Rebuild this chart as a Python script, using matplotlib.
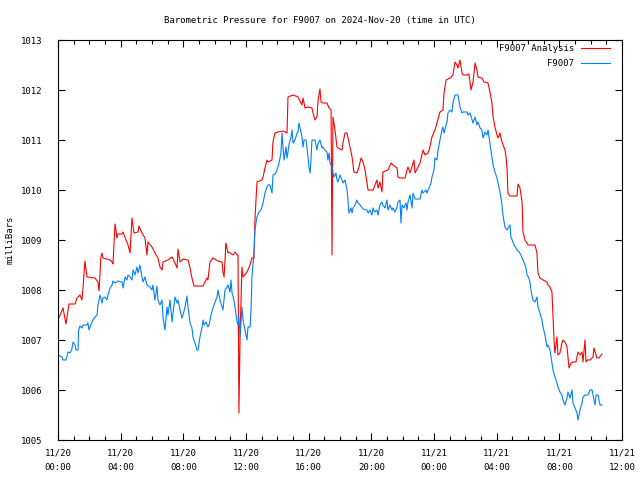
# Barometric pressure for F9007, analysis vs station, 2024-Nov-20 (UTC)

import numpy as np
import pandas as pd
import matplotlib
matplotlib.use('Agg')
import matplotlib.pyplot as plt
import matplotlib.dates as mdates

# Data: hours after 2024-11-20 00:00 UTC, pressure in mb
analysis_hours = [
    0.00, 0.32, 0.51, 0.70, 1.09, 1.21, 1.40, 1.53, 1.60, 1.72, 1.85, 2.36, 2.55, 2.62, 2.74, 2.81,
    2.87, 3.32, 3.45, 3.51, 3.64, 3.77, 3.83, 4.09, 4.15, 4.34, 4.47, 4.60, 4.72, 4.85, 5.11, 5.17,
    5.36, 5.55, 5.68, 5.74, 6.00, 6.19, 6.38, 6.51, 6.64, 6.70, 7.02, 7.28, 7.47, 7.60, 7.66, 7.79,
    7.98, 8.30, 8.43, 8.55, 8.68, 9.26, 9.38, 9.51, 9.57, 9.70, 9.89, 10.21, 10.47, 10.53, 10.60,
    10.72, 10.85, 10.91, 11.17, 11.30, 11.43, 11.49, 11.55, 11.62, 11.74, 11.81, 12.06, 12.26, 12.38,
    12.51, 12.57, 12.70, 13.02, 13.09, 13.21, 13.34, 13.40, 13.66, 13.72, 13.85, 14.04, 14.36, 14.62,
    14.68, 15.00, 15.32, 15.57, 15.64, 15.77, 15.96, 16.21, 16.28, 16.40, 16.53, 16.60, 16.72, 16.79,
    16.91, 17.17, 17.30, 17.43, 17.49, 17.55, 17.68, 17.81, 17.87, 18.13, 18.19, 18.32, 18.45, 18.64,
    18.77, 18.89, 19.08, 19.21, 19.34, 19.47, 19.60, 19.72, 19.79, 20.11, 20.36, 20.43, 20.55, 20.68,
    20.74, 21.06, 21.26, 21.38, 21.64, 21.70, 21.83, 22.15, 22.28, 22.34, 22.47, 22.66, 22.72, 22.79,
    22.98, 23.11, 23.30, 23.43, 23.62, 23.74, 23.87, 24.06, 24.19, 24.38, 24.57, 24.64, 24.77, 25.02,
    25.21, 25.34, 25.47, 25.53, 25.66, 25.79, 25.85, 26.11, 26.23, 26.36, 26.49, 26.62, 26.74, 26.81,
    27.06, 27.19, 27.45, 27.57, 27.70, 27.77, 27.89, 28.02, 28.09, 28.21, 28.34, 28.53, 28.60, 28.66,
    28.72, 28.85, 29.30, 29.36, 29.49, 29.62, 29.68, 29.81, 30.00, 30.45, 30.57, 30.64, 30.76, 30.96,
    31.21, 31.28, 31.40, 31.53, 31.60, 31.66, 31.72, 31.85, 31.91, 32.04, 32.17, 32.23, 32.36, 32.49,
    32.55, 32.62, 32.74, 32.87, 33.06, 33.19, 33.32, 33.45, 33.51, 33.64, 33.70, 33.77, 33.96, 34.15,
    34.21, 34.40, 34.53, 34.72,
]
analysis_mb = [
    1007.40, 1007.64, 1007.32, 1007.72, 1007.72, 1007.84, 1007.90, 1007.80, 1008.06, 1008.58, 1008.26,
    1008.24, 1008.16, 1007.98, 1008.66, 1008.74, 1008.64, 1008.60, 1008.56, 1008.52, 1009.32, 1009.04,
    1009.12, 1009.12, 1009.16, 1009.00, 1008.90, 1008.74, 1009.44, 1009.14, 1009.16, 1009.28, 1009.14,
    1009.04, 1008.70, 1008.96, 1008.86, 1008.74, 1008.64, 1008.46, 1008.40, 1008.56, 1008.60, 1008.66,
    1008.54, 1008.44, 1008.82, 1008.56, 1008.62, 1008.60, 1008.44, 1008.24, 1008.08, 1008.08, 1008.16,
    1008.24, 1008.20, 1008.56, 1008.64, 1008.58, 1008.56, 1008.36, 1008.26, 1008.94, 1008.74, 1008.76,
    1008.70, 1008.76, 1008.70, 1008.70, 1005.54, 1007.06, 1008.46, 1008.26, 1008.36, 1008.50, 1008.64,
    1008.64, 1009.40, 1010.16, 1010.20, 1010.26, 1010.44, 1010.60, 1010.56, 1010.60, 1010.96, 1011.14,
    1011.16, 1011.18, 1011.14, 1011.86, 1011.90, 1011.86, 1011.70, 1011.84, 1011.64, 1011.66, 1011.64,
    1011.54, 1011.40, 1011.46, 1011.80, 1012.02, 1011.76, 1011.74, 1011.74, 1011.64, 1011.60, 1008.70,
    1011.46, 1011.20, 1010.86, 1010.84, 1010.80, 1010.94, 1011.14, 1011.14, 1010.86, 1010.66, 1010.36,
    1010.34, 1010.46, 1010.64, 1010.56, 1010.40, 1010.14, 1010.00, 1010.00, 1010.20, 1010.04, 1010.16,
    1009.96, 1010.36, 1010.40, 1010.54, 1010.50, 1010.44, 1010.26, 1010.24, 1010.24, 1010.40, 1010.46,
    1010.34, 1010.54, 1010.60, 1010.34, 1010.46, 1010.54, 1010.80, 1010.70, 1010.74, 1010.86, 1011.06,
    1011.20, 1011.34, 1011.56, 1011.60, 1011.94, 1012.20, 1012.24, 1012.30, 1012.56, 1012.50, 1012.44,
    1012.60, 1012.34, 1012.30, 1012.30, 1012.32, 1012.00, 1012.16, 1012.54, 1012.40, 1012.26, 1012.24,
    1012.16, 1012.14, 1011.96, 1011.74, 1011.46, 1011.26, 1011.10, 1011.04, 1011.14, 1010.96, 1010.80,
    1010.66, 1010.44, 1009.94, 1009.88, 1009.88, 1010.12, 1010.04, 1009.76, 1009.16, 1009.00, 1008.90,
    1008.90, 1008.74, 1008.34, 1008.24, 1008.20, 1008.16, 1008.10, 1008.06, 1007.96, 1007.46, 1007.00,
    1006.74, 1007.06, 1006.70, 1006.74, 1006.94, 1007.00, 1006.96, 1006.86, 1006.66, 1006.44, 1006.54,
    1006.56, 1006.56, 1006.76, 1006.70, 1006.76, 1006.56, 1007.00, 1006.56, 1006.60, 1006.60, 1006.66,
    1006.84, 1006.64, 1006.64, 1006.72,
]

station_hours = [
    0.00, 0.26, 0.32, 0.51, 0.64, 0.77, 0.89, 0.96, 1.09, 1.15, 1.28, 1.31, 1.40, 1.53, 1.60, 1.85,
    1.91, 1.98, 2.17, 2.23, 2.36, 2.49, 2.55, 2.68, 2.81, 2.87, 3.00, 3.13, 3.19, 3.32, 3.45, 3.51,
    3.64, 3.83, 4.09, 4.15, 4.28, 4.40, 4.47, 4.60, 4.72, 4.79, 4.91, 5.04, 5.11, 5.23, 5.36, 5.43,
    5.55, 5.68, 5.87, 6.00, 6.06, 6.19, 6.32, 6.38, 6.51, 6.64, 6.70, 6.83, 6.96, 7.02, 7.15, 7.28,
    7.34, 7.47, 7.60, 7.66, 7.79, 7.91, 7.98, 8.11, 8.23, 8.30, 8.43, 8.55, 8.62, 8.74, 8.87, 8.94,
    9.06, 9.19, 9.26, 9.32, 9.45, 9.57, 9.64, 9.77, 9.89, 10.02, 10.15, 10.21, 10.34, 10.47, 10.53,
    10.66, 10.79, 10.85, 10.98, 11.04, 11.11, 11.23, 11.30, 11.43, 11.49, 11.55, 11.62, 11.74, 11.81,
    11.94, 12.06, 12.13, 12.26, 12.32, 12.38, 12.51, 12.57, 12.70, 12.83, 12.96, 13.09, 13.21, 13.34,
    13.40, 13.53, 13.66, 13.72, 13.85, 13.98, 14.04, 14.11, 14.23, 14.30, 14.36, 14.43, 14.55, 14.62,
    14.68, 14.74, 14.87, 14.94, 15.00, 15.13, 15.26, 15.32, 15.38, 15.51, 15.57, 15.64, 15.70, 15.83,
    15.89, 16.02, 16.09, 16.15, 16.21, 16.40, 16.53, 16.60, 16.72, 16.85, 16.91, 17.04, 17.17, 17.23,
    17.30, 17.36, 17.49, 17.55, 17.62, 17.74, 17.81, 17.87, 18.00, 18.13, 18.19, 18.32, 18.45, 18.51,
    18.57, 18.70, 18.77, 18.83, 18.96, 19.08, 19.15, 19.28, 19.47, 19.72, 19.79, 19.91, 20.04, 20.11,
    20.23, 20.36, 20.43, 20.55, 20.68, 20.74, 20.87, 21.00, 21.06, 21.19, 21.32, 21.38, 21.51, 21.64,
    21.70, 21.83, 21.89, 21.96, 22.08, 22.21, 22.28, 22.34, 22.47, 22.60, 22.66, 22.79, 23.11, 23.23,
    23.30, 23.49, 23.55, 23.68, 23.81, 23.87, 24.00, 24.06, 24.19, 24.26, 24.38, 24.51, 24.57, 24.64,
    24.77, 24.83, 24.89, 25.02, 25.15, 25.21, 25.34, 25.53, 25.66, 25.79, 25.85, 26.11, 26.17, 26.30,
    26.43, 26.49, 26.62, 26.74, 26.81, 26.94, 27.06, 27.13, 27.26, 27.38, 27.45, 27.57, 27.70, 27.77,
    27.89, 28.02, 28.21, 28.34, 28.40, 28.53, 28.66, 28.85, 28.91, 29.04, 29.11, 29.23, 29.30, 29.43,
    29.55, 29.62, 29.74, 29.87, 29.94, 30.06, 30.13, 30.19, 30.25, 30.32, 30.45, 30.57, 30.64, 30.76,
    30.89, 30.96, 31.08, 31.21, 31.28, 31.40, 31.53, 31.60, 31.72, 31.85, 31.91, 32.04, 32.17, 32.23,
    32.36, 32.49, 32.55, 32.68, 32.81, 32.87, 33.00, 33.13, 33.19, 33.32, 33.45, 33.51, 33.64, 33.83,
    33.96, 34.09, 34.15, 34.28, 34.34, 34.47, 34.60, 34.72,
]
station_mb = [
    1006.70, 1006.66, 1006.60, 1006.60, 1006.76, 1006.74, 1006.82, 1006.96, 1006.90, 1006.80, 1006.80,
    1007.18, 1007.28, 1007.24, 1007.30, 1007.30, 1007.34, 1007.20, 1007.36, 1007.40, 1007.46, 1007.50,
    1007.70, 1007.90, 1007.74, 1007.84, 1007.86, 1007.80, 1007.90, 1008.04, 1008.10, 1008.18, 1008.14,
    1008.18, 1008.16, 1008.04, 1008.26, 1008.20, 1008.30, 1008.26, 1008.20, 1008.40, 1008.30, 1008.46,
    1008.34, 1008.50, 1008.26, 1008.16, 1008.26, 1008.10, 1008.06, 1008.00, 1008.10, 1007.80, 1008.08,
    1007.80, 1007.70, 1007.80, 1007.46, 1007.20, 1007.66, 1007.50, 1007.80, 1007.36, 1007.54, 1007.86,
    1007.74, 1007.80, 1007.60, 1007.44, 1007.50, 1007.66, 1007.88, 1007.66, 1007.34, 1007.24, 1007.06,
    1006.94, 1006.80, 1006.80, 1007.06, 1007.24, 1007.40, 1007.30, 1007.36, 1007.26, 1007.30, 1007.50,
    1007.64, 1007.76, 1007.86, 1008.00, 1007.80, 1007.66, 1007.60, 1008.00, 1008.06, 1008.10, 1007.96,
    1008.20, 1007.94, 1007.80, 1007.66, 1007.36, 1007.30, 1007.46, 1007.06, 1007.66, 1007.40, 1007.20,
    1007.00, 1007.26, 1007.26, 1007.60, 1008.26, 1008.74, 1009.20, 1009.46, 1009.56, 1009.60, 1009.74,
    1009.94, 1010.06, 1010.10, 1010.10, 1009.94, 1010.30, 1010.32, 1010.40, 1010.46, 1010.54, 1010.74,
    1011.14, 1010.86, 1010.60, 1010.86, 1010.64, 1010.76, 1010.90, 1011.06, 1011.20, 1010.94, 1011.00,
    1011.14, 1011.16, 1011.34, 1011.16, 1011.06, 1010.86, 1011.00, 1011.00, 1010.86, 1010.46, 1010.34,
    1010.60, 1011.00, 1011.00, 1010.80, 1010.94, 1011.00, 1010.84, 1010.86, 1010.80, 1010.76, 1010.60,
    1010.74, 1010.54, 1010.46, 1010.34, 1010.26, 1010.34, 1010.20, 1010.16, 1010.30, 1010.20, 1010.14,
    1010.20, 1010.00, 1009.80, 1009.54, 1009.64, 1009.54, 1009.64, 1009.70, 1009.80, 1009.74, 1009.70,
    1009.62, 1009.60, 1009.54, 1009.60, 1009.50, 1009.64, 1009.56, 1009.60, 1009.50, 1009.70, 1009.76,
    1009.70, 1009.64, 1009.80, 1009.60, 1009.70, 1009.60, 1009.64, 1009.56, 1009.66, 1009.76, 1009.80,
    1009.34, 1009.70, 1009.64, 1009.74, 1009.60, 1009.76, 1009.90, 1009.64, 1009.94, 1009.82, 1009.82,
    1010.00, 1009.94, 1010.00, 1009.94, 1010.04, 1010.14, 1010.26, 1010.40, 1010.64, 1010.60, 1010.80,
    1011.00, 1011.20, 1011.26, 1011.14, 1011.30, 1011.36, 1011.54, 1011.60, 1011.56, 1011.74, 1011.90,
    1011.90, 1011.66, 1011.54, 1011.56, 1011.56, 1011.50, 1011.54, 1011.40, 1011.34, 1011.46, 1011.30,
    1011.36, 1011.24, 1011.20, 1011.04, 1011.16, 1011.10, 1011.20, 1010.94, 1010.66, 1010.50, 1010.36,
    1010.24, 1009.96, 1009.70, 1009.50, 1009.26, 1009.20, 1009.30, 1009.06, 1008.96, 1008.90, 1008.84,
    1008.80, 1008.76, 1008.70, 1008.64, 1008.56, 1008.44, 1008.30, 1008.24, 1008.14, 1008.00, 1007.90,
    1007.80, 1007.76, 1007.86, 1007.66, 1007.54, 1007.40, 1007.26, 1007.10, 1006.86, 1006.90, 1006.80,
    1006.54, 1006.40, 1006.26, 1006.14, 1006.06, 1005.96, 1005.90, 1005.80, 1005.70, 1005.84, 1005.96,
    1005.84, 1006.00, 1005.74, 1005.64, 1005.54, 1005.40, 1005.60, 1005.74, 1005.86, 1005.90, 1005.90,
    1006.00, 1006.00, 1005.90, 1005.70, 1005.90, 1005.90, 1005.70, 1005.70,
]

start = pd.Timestamp('2024-11-20 00:00')
t_analysis = start + pd.to_timedelta(analysis_hours, unit='h')
t_station = start + pd.to_timedelta(station_hours, unit='h')

plt.rcParams['font.family'] = 'DejaVu Sans Mono'
plt.rcParams['font.size'] = 6.5

fig = plt.figure(figsize=(6.4, 4.8), dpi=100)
ax = fig.add_axes([58 / 640, 40 / 480, 564 / 640, 400 / 480])

ax.plot(t_analysis, analysis_mb, color='#ff0000', lw=0.8, label='F9007 Analysis')
ax.plot(t_station, station_mb, color='#0080ff', lw=0.8, label='F9007')

ax.set_xlim(start, start + pd.Timedelta(hours=36))
ax.set_ylim(1005, 1013)
ax.set_yticks(np.arange(1005, 1014, 1))

ax.xaxis.set_major_locator(mdates.HourLocator(byhour=range(0, 24, 4)))
ax.xaxis.set_minor_locator(mdates.HourLocator())
ax.xaxis.set_major_formatter(mdates.DateFormatter('%m/%d\n%H:%M'))

ax.tick_params(which='both', direction='in', top=True, right=True, width=0.8)
ax.tick_params(which='major', length=5)
ax.tick_params(which='minor', length=3)
ax.tick_params(axis='x', which='major', pad=6)
ax.tick_params(axis='y', which='major', pad=11)
for lbl in ax.get_xticklabels():
    lbl.set_linespacing(1.8)
for s in ax.spines.values():
    s.set_linewidth(0.8)

ax.legend(loc='upper right', bbox_to_anchor=(610 / 640, 1 - 44 / 480),
          bbox_transform=fig.transFigure, frameon=False, markerfirst=False,
          handlelength=3.2, borderpad=0, borderaxespad=0, labelspacing=0.7,
          handletextpad=0.8)

fig.text(0.5, 1 - 20 / 480, 'Barometric Pressure for F9007 on 2024-Nov-20 (time in UTC)',
         ha='center', va='center')
fig.text(10 / 640, 0.5, 'milliBars', rotation=90, ha='center', va='center')

fig.savefig('out.png', dpi=100)
